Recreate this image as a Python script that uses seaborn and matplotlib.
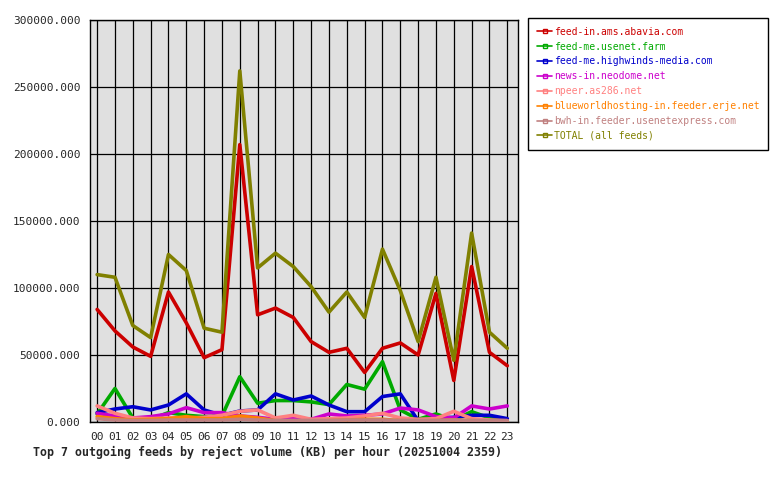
import pandas as pd
import seaborn as sns
from matplotlib import pyplot as plt
from matplotlib.lines import Line2D

# Данные (KB в час)
hours = ['00', '01', '02', '03', '04', '05', '06', '07', '08', '09', '10', '11',
         '12', '13', '14', '15', '16', '17', '18', '19', '20', '21', '22', '23']

abavia = [84000, 68000, 56000, 49000, 97000, 74000, 48000, 54000, 207000, 80000, 85000, 78000,
          60000, 52000, 55000, 37000, 55000, 59000, 50000, 96000, 31000, 116000, 52000, 42000]
usenet_farm = [6000, 25000, 3000, 2000, 7000, 5000, 4000, 4500, 33800, 14000, 16000, 16000,
               15000, 13000, 28000, 24500, 45000, 9000, 2000, 6000, 1500, 7700, 3000, 500]
highwinds = [7000, 9700, 11400, 9000, 12700, 21000, 9000, 5000, 8200, 9000, 21000, 16400,
             19400, 12700, 7700, 7700, 19000, 21000, 1000, 3000, 3500, 5000, 5000, 2500]
neodome = [6500, 4500, 3000, 4000, 6000, 10700, 7000, 7000, 4500, 3500, 2000, 2500,
           2000, 6000, 4500, 5000, 6000, 10400, 9000, 4000, 3000, 12000, 9700, 12000]
npeer = [12000, 6500, 3000, 2500, 3000, 3000, 3500, 5000, 8000, 9000, 3000, 5000,
         2000, 2500, 3000, 4500, 6500, 3000, 2000, 2500, 8000, 2500, 1500, 1000]
blueworld = [4000, 2500, 1500, 2000, 2500, 4000, 2500, 2500, 4500, 3000, 1000, 500,
             500, 1000, 1500, 2000, 2000, 1000, 500, 1000, 1500, 1000, 500, 500]
bwh = [2500, 1500, 1200, 1200, 1500, 1500, 1500, 1500, 2000, 1500, 1200, 1200,
       1200, 1200, 1500, 1500, 1500, 1200, 1200, 1200, 1500, 1200, 1000, 1000]
total = [110000, 108000, 72000, 63000, 125000, 113000, 70000, 67000, 262000, 115000, 126000, 116000,
         101000, 82000, 97000, 78000, 129000, 98000, 60000, 108000, 46000, 141000, 67000, 55000]

feeds = ['feed-in.ams.abavia.com', 'feed-me.usenet.farm', 'feed-me.highwinds-media.com',
         'news-in.neodome.net', 'npeer.as286.net', 'blueworldhosting-in.feeder.erje.net',
         'bwh-in.feeder.usenetexpress.com', 'TOTAL (all feeds)']
series = [abavia, usenet_farm, highwinds, neodome, npeer, blueworld, bwh, total]
colors = ['#cc0000', '#00aa00', '#0000cc', '#cc00cc', '#ff8080', '#ff8000', '#c08080', '#808000']

rows = []
for name, vals in zip(feeds, series):
    for i, v in enumerate(vals):
        rows.append({'hour': i, 'feed': name, 'kb': v})
df = pd.DataFrame(rows)

sns.set_style('white', {'axes.facecolor': '#e0e0e0', 'axes.edgecolor': 'black'})
plt.rcParams['font.family'] = ['DejaVu Sans Mono']

fig = plt.figure(figsize=(7.8, 4.8), dpi=100)
ax = fig.add_axes([90 / 780, 1 - 422 / 480, 428 / 780, 402 / 480])

sns.lineplot(data=df, x='hour', y='kb', hue='feed', hue_order=feeds,
             palette=colors, linewidth=2.6, legend=False, ax=ax, zorder=3)

ax.set_xlim(-0.4, 23.6)
ax.set_ylim(0, 300000)
ax.set_xticks(range(24))
ax.set_xticklabels(hours)
ax.set_yticks(range(0, 300001, 50000))
ax.set_yticklabels([f'{v}.000' for v in range(0, 300001, 50000)])
ax.grid(True, color='black', linewidth=0.9)
ax.set_axisbelow(True)
ax.tick_params(axis='both', labelsize=8, length=4, width=1, color='black', direction='out',
               pad=3)
ax.set_xlabel('')
ax.set_ylabel('')
for sp in ax.spines.values():
    sp.set_linewidth(1)

fig.text(33 / 780, 1 - 452 / 480,
         'Top 7 outgoing feeds by reject volume (KB) per hour (20251004 2359)',
         fontsize=8.4, fontweight='bold', va='center', ha='left')

# Легенда
handles = [Line2D([0], [0], color=c, linewidth=1.2, marker='s', markersize=3,
                  markerfacecolor='none', markeredgecolor=c) for c in colors]
leg = fig.legend(handles, feeds, loc='upper left', bbox_to_anchor=(528 / 780, 1 - 18 / 480),
                 fontsize=7.0, frameon=True, fancybox=False, edgecolor='black',
                 facecolor='white', framealpha=1,
                 handlelength=1.6, handletextpad=0.15, labelspacing=0.5, borderpad=0.9,
                 borderaxespad=0)
leg.get_frame().set_linewidth(1)
for txt, c in zip(leg.get_texts(), colors):
    txt.set_color(c)

fig.savefig('out.png', dpi=100)
